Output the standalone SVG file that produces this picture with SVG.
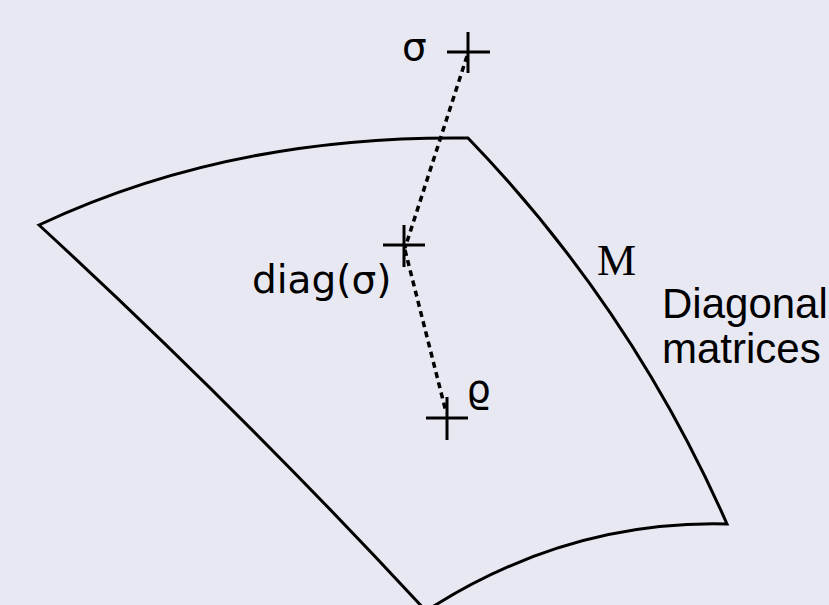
<svg xmlns="http://www.w3.org/2000/svg" width="829" height="605" viewBox="0 0 829 605">
<style>
.edge{fill:none;stroke:#000;stroke-width:3;stroke-linejoin:miter}
.cross{stroke:#000;stroke-width:3;fill:none}
.dot{stroke:#000;stroke-width:3.5;stroke-dasharray:6,4.5;fill:none}
.lbl{font-family:"DejaVu Sans",sans-serif;font-size:39px;fill:#000}
.side{font-family:"Liberation Sans",Arial,sans-serif;font-size:42px;fill:#000}
.m{font-family:"Liberation Serif","Times New Roman",serif;font-size:44px;fill:#000}
</style>
<rect width="829" height="605" fill="#e8e8f2"/>
<g id="manifold">
<path class="edge" d="M39,225 Q230,135 468,138 Q632,308 727,524 Q567,520 426,611 Q240,410 39,225 Z"/>
<text class="m" x="597" y="275">M</text>
</g>
<g id="label-diagonal">
<text class="side" x="662" y="318">Diagonal</text>
<text class="side" x="662" y="363">matrices</text>
</g>
<g id="connectors">
<line class="dot" x1="467" y1="56" x2="405" y2="248"/>
<line class="dot" x1="405" y1="250" x2="446" y2="412"/>
</g>
<g id="sigma">
<path class="cross" d="M447,52 H490 M468,32 V73"/>
<text class="lbl" x="402" y="60">σ</text>
</g>
<g id="diag">
<path class="cross" d="M383,245 H425 M404,225 V267"/>
<text class="lbl" x="252" y="293">diag(σ)</text>
</g>
<g id="rho">
<path class="cross" d="M426,418 H468 M447,397 V440"/>
<text class="lbl" x="466" y="402">ϱ</text>
</g>
</svg>
